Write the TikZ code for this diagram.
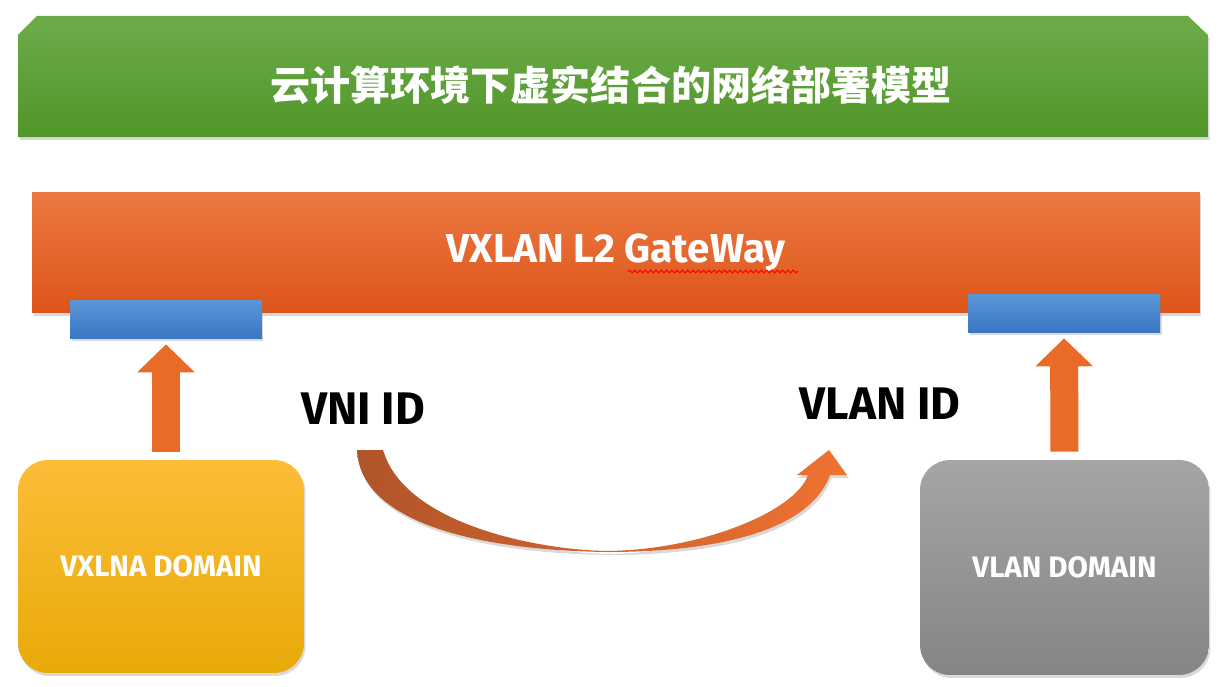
\documentclass[tikz,border=0pt]{standalone}
\usepackage{fontspec}
\setmainfont{Fira Sans}
\newfontfamily\cjk{Noto Sans CJK SC}
\usetikzlibrary{arrows.meta,shadows,calc,decorations.pathmorphing}
\definecolor{leafTop}{HTML}{6CAB4A}
\definecolor{leafBot}{HTML}{519628}
\definecolor{rustTop}{HTML}{EC7A42}
\definecolor{rustMid}{HTML}{EC6423}
\definecolor{rustBot}{HTML}{DD5419}
\definecolor{portTop}{HTML}{5B96D6}
\definecolor{portBot}{HTML}{3A77C4}
\definecolor{goldTop}{HTML}{FCBD38}
\definecolor{goldMid}{HTML}{FCBB12}
\definecolor{goldBot}{HTML}{E8AA08}
\definecolor{ashTop}{HTML}{A5A5A5}
\definecolor{ashBot}{HTML}{858585}
\definecolor{pushcol}{HTML}{EA6A27}
\definecolor{swapL}{HTML}{B0552A}
\definecolor{swapR}{HTML}{EF7231}

\begin{document}
\begin{tikzpicture}[
  x=0.02cm, y=-0.02cm,
  font=\bfseries,
  >={Triangle[length=0.56cm,width=1.12cm]},
  lift/.style={drop shadow={opacity=0.3, shadow xshift=0.03cm, shadow yshift=-0.06cm}},
  bannerfill/.style={top color=leafTop, bottom color=leafBot, lift},
  gatebar/.style={rectangle, minimum width=23.36cm, minimum height=2.42cm, inner sep=0pt,
    top color=rustTop, middle color=rustMid, bottom color=rustBot, lift, text=white},
  port/.style={rectangle, minimum width=3.84cm, minimum height=0.76cm, inner sep=0pt,
    top color=portTop, bottom color=portBot, lift},
  domainbox/.style={rectangle, rounded corners=0.6cm, inner sep=0pt, text=white,
    font=\bfseries\fontsize{16.8}{19}\selectfont, lift},
  idlabel/.style={font=\bfseries\fontsize{26}{30}\selectfont, text=black},
  push/.style={->, draw=pushcol, line width=0.56cm, shorten >=0.12cm, shorten <=0.16cm},
  swaparrow/.style={left color=swapL, right color=swapR, lift},
  spellmark/.style={draw=red, line width=0.6pt,
    decorate, decoration={snake, segment length=3pt, amplitude=0.8pt}}
]
\useasboundingbox (0,0) rectangle (1222,686);

% Title banner with cut top corners
\coordinate (bannerNW) at (18,16);
\coordinate (bannerSE) at (1208,137);
\path[bannerfill] (bannerNW |- bannerSE) -- ($(bannerNW)+(0,19)$) -- ($(bannerNW)+(19,0)$)
  -- ($(bannerNW -| bannerSE)+(-20,0)$) -- ($(bannerNW -| bannerSE)+(0,19)$)
  -- (bannerSE) -- cycle;
\node[text=white, font=\cjk\bfseries\fontsize{22.8}{27}\selectfont] (title) at (611,85)
  {云计算环境下虚实结合的网络部署模型};

% Gateway bar and its ports
\node[gatebar, font=\bfseries\fontsize{23}{26}\selectfont] (gateway) at (616,252.5)
  {VXLAN L2 GateWay};
\draw[spellmark] ($(gateway.center)+(12,19)$) -- ++(170,0);
\node[port] (portL) at (166,319) {};
\node[port] (portR) at (1064,313) {};

% Domains
\node[domainbox, minimum width=5.72cm, minimum height=4.26cm,
  top color=goldTop, middle color=goldMid, bottom color=goldBot] (vxlandom) at (161,566.5)
  {VXLNA DOMAIN};
\node[domainbox, minimum width=5.78cm, minimum height=4.3cm,
  top color=ashTop, bottom color=ashBot] (vlandom) at (1064.5,567.5)
  {VLAN DOMAIN};

\draw[push] (portL.south |- vxlandom.north) -- (portL.south);
\draw[push] (vlandom.north) -- (portR.south);

% ID mapping
\node[idlabel] (vni) at (363,409) {VNI ID};
\node[idlabel] (vlanid) at (880,404) {VLAN ID};

\coordinate (tailout) at (357,450);
\coordinate (tailin) at (383,450);
\coordinate (dip) at (607,552);
\coordinate (dipin) at (607,551);
\coordinate (neckout) at (830,475);
\coordinate (neckin) at (808,475);
\coordinate (barbout) at (847,475);
\coordinate (barbin) at (797,475);
\coordinate (tip) at (829,450);
\path[swaparrow] (tailout) .. controls (360,520) and (470,550) .. (dip)
  .. controls (720,552) and (810,530) .. (neckout) -- (barbout) -- (tip)
  -- (barbin) -- (neckin) .. controls (795,512) and (700,550) .. (dipin)
  .. controls (540,550) and (405,525) .. (tailin) -- cycle;

\end{tikzpicture}
\end{document}
